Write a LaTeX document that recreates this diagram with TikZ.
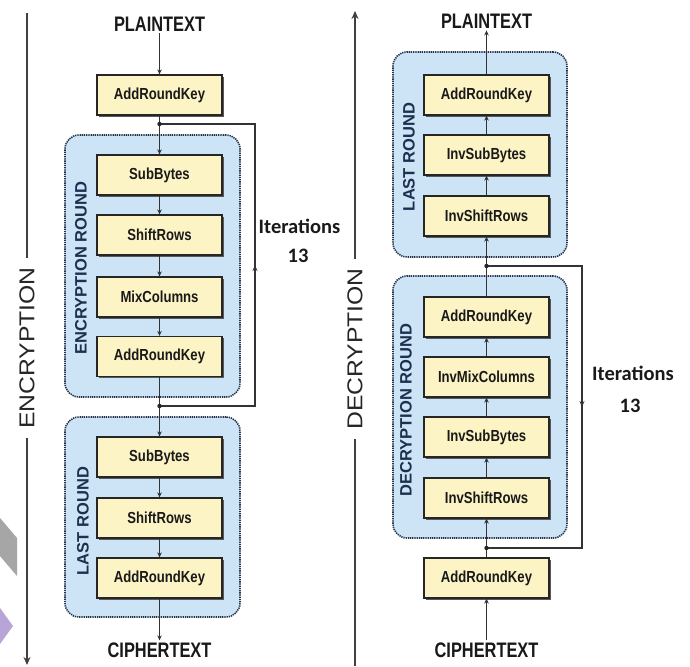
\documentclass[tikz,border=0pt]{standalone}
\usepackage{fontspec}
\setmainfont{Liberation Sans}
\newfontfamily\boxfont[FakeStretch=0.82]{Liberation Sans}
\newfontfamily\titlefont[FakeStretch=0.78]{Liberation Sans}
\newfontfamily\widefont[FakeStretch=1.15]{Liberation Sans}
\newfontfamily\calfont{Carlito}
\usetikzlibrary{arrows.meta,shadows,decorations.markings}
\definecolor{boxyellow}{HTML}{FDF4C6}
\definecolor{roundblue}{HTML}{CDE3F6}
\definecolor{roundborder}{HTML}{25344A}
\definecolor{labelnavy}{HTML}{1E3050}
\definecolor{wmgray}{HTML}{A6A6A6}
\definecolor{wmpurple}{HTML}{B6A5D6}
\begin{document}
\begin{tikzpicture}[x=1pt,y=-1pt,
  stage/.style={draw=black!85, line width=1.2pt, fill=boxyellow,
    minimum width=125pt, minimum height=40pt, inner sep=0pt,
    font=\boxfont\bfseries\fontsize{16}{16}\selectfont, text=black!90,
    drop shadow={shadow xshift=1.8pt,shadow yshift=-1.8pt,fill=black!65,opacity=1}},
  roundbox/.style={draw=roundborder, fill=roundblue, line width=1.6pt,
    dash pattern=on 1.3pt off 0.9pt, rounded corners=14pt, inner sep=0pt},
  roundlabel/.style={font=\bfseries\fontsize{16.5}{16.5}\selectfont, text=labelnavy, inner sep=0pt},
  endtext/.style={font=\titlefont\bfseries\fontsize{21}{21}\selectfont, text=black!90, inner sep=2pt},
  itertext/.style={font=\calfont\bfseries\fontsize{20.5}{20.5}\selectfont, text=black!90, inner sep=0pt},
  bigtext/.style={font=\widefont\fontsize{21.5}{21.5}\selectfont, text=black!85, inner sep=0pt, outer sep=9pt},
  flow/.style={draw=black!80, line width=1.1pt, -{Stealth[length=5pt,width=4.5pt]}},
  loopline/.style={draw=black!80, line width=1.1pt,
    postaction={decorate},
    decoration={markings, mark=at position 0.5 with {\arrow{Stealth[length=6pt,width=5pt]}}}},
  bigline/.style={draw=black!75, line width=2.4pt},
  dot/.style={fill=black!85}
]
\useasboundingbox (0,0) rectangle (690,666);
\fill[white] (0,0) rectangle (690,666);

% watermark fragments
\fill[wmgray] (0,518) -- (17,538) -- (17,576) -- (0,556) -- cycle;
\fill[wmpurple] (0,608) -- (13,626) -- (0,644) -- cycle;

% round containers
\node[roundbox, minimum width=175pt, minimum height=262pt] (encround) at (152.5,266) {};
\node[roundbox, minimum width=175pt, minimum height=200pt] (lastenc) at (152.5,517) {};
\node[roundbox, minimum width=174pt, minimum height=205pt] (lastdec) at (480,154.5) {};
\node[roundbox, minimum width=174pt, minimum height=262pt] (decround) at (480,407) {};

\node[roundlabel, rotate=90] (lblenc) at (81,268) {ENCRYPTION ROUND};
\node[roundlabel, rotate=90] (lbllast1) at (83,521) {LAST ROUND};
\node[roundlabel, rotate=90] (lbllast2) at (409,157) {LAST ROUND};
\node[roundlabel, rotate=90] (lbldec) at (406,410) {DECRYPTION ROUND};

% encryption column
\node[endtext] (pt1) at (159.5,24) {PLAINTEXT};
\node[stage] (ark0) at (159.5,95) {AddRoundKey};
\node[stage] (sb1) at (159.5,175) {SubBytes};
\node[stage] (sr1) at (159.5,235) {ShiftRows};
\node[stage] (mc1) at (159.5,297) {MixColumns};
\node[stage] (ark1) at (159.5,356.5) {AddRoundKey};
\node[stage] (sb2) at (159.5,457) {SubBytes};
\node[stage] (sr2) at (159.5,518) {ShiftRows};
\node[stage] (ark2) at (159.5,578) {AddRoundKey};
\node[endtext] (ct1) at (159.5,650) {CIPHERTEXT};

% decryption column
\node[endtext] (pt2) at (486.5,21) {PLAINTEXT};
\node[stage] (ark3) at (486.5,95) {AddRoundKey};
\node[stage] (isb3) at (486.5,155) {InvSubBytes};
\node[stage] (isr3) at (486.5,216) {InvShiftRows};
\node[stage] (ark4) at (486.5,317) {AddRoundKey};
\node[stage] (imc4) at (486.5,377) {InvMixColumns};
\node[stage] (isb4) at (486.5,437) {InvSubBytes};
\node[stage] (isr4) at (486.5,498) {InvShiftRows};
\node[stage] (ark5) at (486.5,578) {AddRoundKey};
\node[endtext] (ct2) at (486.5,650) {CIPHERTEXT};

% encryption flow
\draw[flow] (pt1) -- (ark0);
\draw[flow] (ark0) -- (sb1);
\draw[flow] (sb1) -- (sr1);
\draw[flow] (sr1) -- (mc1);
\draw[flow] (mc1) -- (ark1);
\draw[flow] (ark1) -- (sb2);
\draw[flow] (sb2) -- (sr2);
\draw[flow] (sr2) -- (ark2);
\draw[flow] (ark2) -- (ct1);

% decryption flow
\draw[flow] (ct2) -- (ark5);
\draw[flow] (ark5) -- (isr4);
\draw[flow] (isr4) -- (isb4);
\draw[flow] (isb4) -- (imc4);
\draw[flow] (imc4) -- (ark4);
\draw[flow] (ark4) -- (isr3);
\draw[flow] (isr3) -- (isb3);
\draw[flow] (isb3) -- (ark3);
\draw[flow] (ark3) -- (pt2);

% iteration loops
\coordinate (j1) at (159.5,124);
\coordinate (j2) at (159.5,406);
\coordinate (c1) at (255,124);
\coordinate (c2) at (255,406);
\draw[loopline] (j2) -- (c2) -- (c1) -- (j1);
\fill[dot] (j1) circle (2.2pt);
\fill[dot] (j2) circle (2.2pt);

\coordinate (j3) at (486.5,266);
\coordinate (j4) at (486.5,548);
\coordinate (c3) at (582,266);
\coordinate (c4) at (582,548);
\draw[loopline] (j3) -- (c3) -- (c4) -- (j4);
\fill[dot] (j3) circle (2.2pt);
\fill[dot] (j4) circle (2.2pt);

\node[itertext] (it1) at (299.5,226) {Iterations};
\node[itertext] (n1) at (298,256) {13};
\node[itertext] (it2) at (633,373) {Iterations};
\node[itertext] (n2) at (630,406) {13};

% side arrows
\node[bigtext, rotate=90] (enc) at (27,348) {ENCRYPTION};
\coordinate (etop) at (27,13);
\coordinate (ebot) at (27,665);
\draw[bigline] (etop) -- (enc.east);
\draw[bigline, -{Stealth[length=8pt,width=7pt]}] (enc.west) -- (ebot);

\node[bigtext, rotate=90] (dec) at (355,349) {DECRYPTION};
\coordinate (dtop) at (355,11);
\coordinate (dbot) at (355,666);
\draw[bigline] (dbot) -- (dec.west);
\draw[bigline, -{Stealth[length=8pt,width=7pt]}] (dec.east) -- (dtop);
\end{tikzpicture}
\end{document}
